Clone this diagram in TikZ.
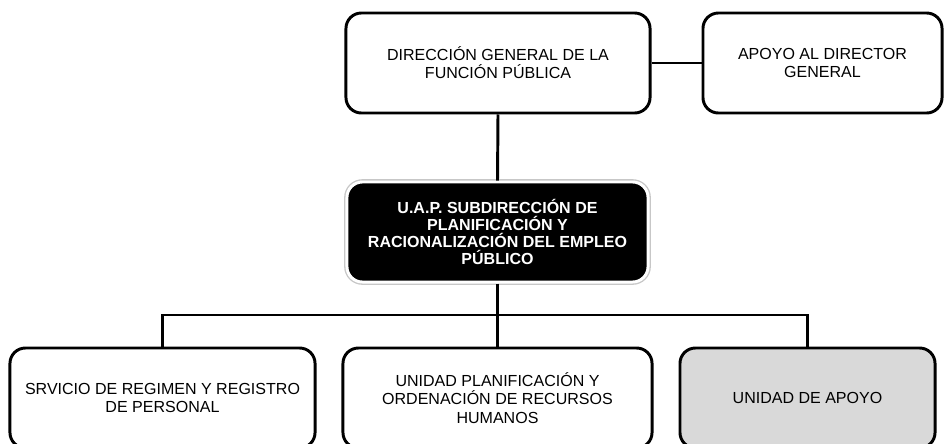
\documentclass[tikz,border=0pt]{standalone}
\usepackage{fontspec}
\setmainfont{Liberation Sans}
\usetikzlibrary{calc}

\begin{document}
\begin{tikzpicture}[x=0.025cm, y=-0.025cm,
	caja/.style={draw, line width=2.1pt, rounded corners=11pt, fill=white, align=center,
		minimum height=2.5cm, inner sep=0pt, font=\fontsize{11.4}{12.9}\selectfont},
	cajanegra/.style={caja, fill=black, draw=white, text=white,
		preaction={draw=black!22, line width=4pt},
		font=\fontsize{11.4}{12.2}\selectfont\bfseries},
	cajagris/.style={caja, fill=black!15},
	linea/.style={line width=2.1pt}]
	%%%%% START %%%%%
	\useasboundingbox (0, 0) rectangle (944, 443);
	
	\node[caja, minimum width=7.6cm] (dgfp) at (498, 63) {DIRECCIÓN GENERAL DE LA\\FUNCIÓN PÚBLICA};
	\node[caja, minimum width=5.975cm] (apoyo) at (822.5, 63) {APOYO AL DIRECTOR\\GENERAL};
	
	\node[cajanegra, minimum width=7.525cm] (uap) at (497.5, 232) {U.A.P. SUBDIRECCIÓN DE\\PLANIFICACIÓN Y\\RACIONALIZACIÓN DEL EMPLEO\\PÚBLICO};
	
	\node[caja, minimum width=7.625cm] (srv) at (162.5, 398) {SRVICIO DE REGIMEN Y REGISTRO\\DE PERSONAL};
	\node[caja, minimum width=7.725cm] (upo) at (497.5, 398) {UNIDAD PLANIFICACIÓN Y\\ORDENACIÓN DE RECURSOS\\HUMANOS};
	\node[cajagris, minimum width=6.375cm] (uda) at (807.5, 398) {UNIDAD DE APOYO};
	
	\coordinate (bus) at (497.5, 315);
	
	\draw[linea] (dgfp.east) -- (apoyo.west);
	\draw[linea] (dgfp.south) -- (uap.north);
	\draw[linea] (uap.south) -- (bus);
	\draw[linea] (srv.north) |- (bus) -| (uda.north);
	\draw[linea] (bus) -- (upo.north);
	
	%%%%% END %%%%%
\end{tikzpicture}
\end{document}
